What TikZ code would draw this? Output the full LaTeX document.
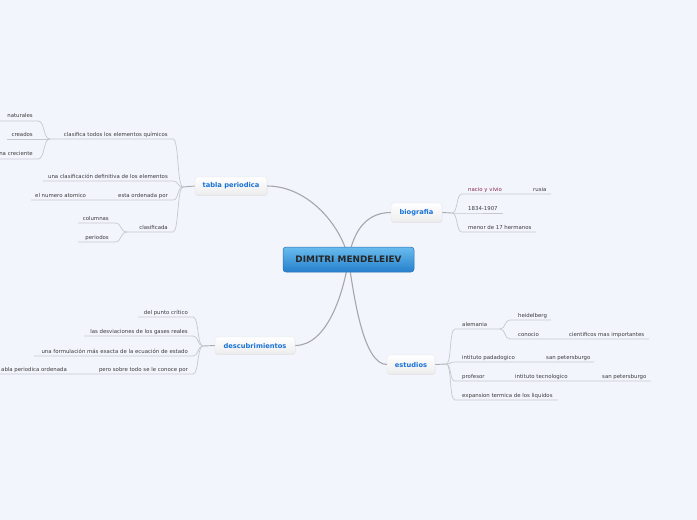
\documentclass[tikz,border=0pt]{standalone}
\usepackage{fontspec}
\setmainfont{DejaVu Sans}
\usetikzlibrary{shadows}
\definecolor{bg}{RGB}{243,245,253}
\definecolor{leafline}{RGB}{198,200,208}
\definecolor{stubline}{RGB}{170,172,178}
\definecolor{mainline}{RGB}{165,167,172}
\definecolor{leaftext}{RGB}{60,60,60}
\definecolor{topictext}{RGB}{25,115,215}
\definecolor{ctrtop}{RGB}{105,188,238}
\definecolor{ctrbot}{RGB}{38,128,204}
\definecolor{ctrborder}{RGB}{45,112,178}
\definecolor{maroontext}{RGB}{135,45,72}
\pgfdeclarelayer{bgfill}
\pgfdeclarelayer{lines}
\pgfsetlayers{bgfill,lines,main}
\begin{document}
\begin{tikzpicture}[x=1pt,y=-1pt,
  leaf/.style={inner sep=0pt, font=\fontsize{5.4}{6}\selectfont, text=leaftext},
  lw/.style={leaf, anchor=base west},
  le/.style={leaf, anchor=base east},
  br/.style={draw=leafline, line width=0.7pt},
  stub/.style={draw=stubline, line width=0.9pt},
  mainbr/.style={draw=mainline, line width=1.1pt},
  topic/.style={rounded corners=2.5pt, top color=white, bottom color=gray!14,
    draw=gray!22, line width=0.3pt, text=topictext,
    font=\fontsize{6.7}{8}\selectfont\bfseries, inner sep=0pt,
    drop shadow={opacity=0.12, shadow xshift=0.4pt, shadow yshift=-0.8pt}},
  center/.style={rounded corners=3pt, top color=ctrtop, bottom color=ctrbot,
    draw=ctrborder, line width=0.5pt, text=black!85,
    font=\fontsize{8.9}{10}\selectfont\bfseries, inner sep=0pt,
    minimum width=131pt, minimum height=25pt}
]
\useasboundingbox (0,0) rectangle (697,520);
\begin{pgfonlayer}{bgfill}
\fill[bg] (0,0) rectangle (697,520);
\end{pgfonlayer}

% ---------- main nodes ----------
\node[center] (ctr) at (348.5,259.5) {DIMITRI MENDELEIEV};
\node[topic, minimum width=72pt, minimum height=18pt] (tabla) at (231,186) {tabla periodica};
\node[topic, minimum width=51pt, minimum height=19pt] (bio) at (416.5,212.5) {biografia};
\node[topic, minimum width=48pt, minimum height=19pt] (est) at (411,364.5) {estudios};
\node[topic, minimum width=80pt, minimum height=17pt] (desc) at (255,345.5) {descubrimientos};

% ---------- coordinates ----------
% tabla periodica
\coordinate (J1) at (183,187);
\coordinate (c1a) at (173,139); \coordinate (J2) at (50,139);
\coordinate (c2a) at (173,181); \coordinate (c2b) at (43,181);
\coordinate (c3a) at (173,200); \coordinate (c3b) at (31,200);
\coordinate (c4a) at (173,232); \coordinate (J3) at (127,232);
\coordinate (n1a) at (38,121); \coordinate (n1b) at (0,121);
\coordinate (n2b) at (7,139);
\coordinate (n3a) at (38,159); \coordinate (n3b) at (0,159);
\coordinate (p1a) at (115,223); \coordinate (p1b) at (78,223);
\coordinate (p2a) at (115,242); \coordinate (p2b) at (78,242);
% descubrimientos
\coordinate (J5) at (203,346);
\coordinate (d1a) at (193,317); \coordinate (d1b) at (138,317);
\coordinate (d2a) at (193,336); \coordinate (d2b) at (84,336);
\coordinate (d3a) at (193,356); \coordinate (d3b) at (34,356);
\coordinate (d4a) at (193,374); \coordinate (d4b) at (0,374);
% biografia
\coordinate (J6) at (452,213);
\coordinate (b1a) at (462,194); \coordinate (b1b) at (551,194);
\coordinate (b2a) at (462,213); \coordinate (b2b) at (503,213);
\coordinate (b3a) at (462,232); \coordinate (b3b) at (536,232);
% estudios
\coordinate (J7) at (446,364);
\coordinate (e1a) at (455,329); \coordinate (J4) at (500,329);
\coordinate (h1a) at (510,320); \coordinate (h1b) at (551,320);
\coordinate (h2a) at (510,339); \coordinate (h2b) at (649,339);
\coordinate (e2a) at (455,362); \coordinate (e2b) at (594,362);
\coordinate (e3a) at (455,381); \coordinate (e3b) at (651,381);
\coordinate (e4a) at (455,400); \coordinate (e4b) at (558,400);

% ---------- lines ----------
\begin{pgfonlayer}{lines}
\draw[mainbr] (tabla.east) .. controls +(42,0) and +(-6,-32) .. (ctr.center);
\draw[mainbr] (bio.west) .. controls +(-22,0) and +(5,-32) .. (ctr.center);
\draw[mainbr] (est.west) .. controls +(-24,0) and +(5,34) .. (ctr.center);
\draw[mainbr] (desc.east) .. controls +(32,0) and +(-5,34) .. (ctr.center);

\draw[stub] (tabla.west) -- (J1);
\draw[br] (J1) .. controls +(-6,0) and +(6,0) .. (c1a) -- (J2);
\draw[br] (J1) .. controls +(-6,0) and +(6,0) .. (c2a) -- (c2b);
\draw[br] (J1) .. controls +(-6,0) and +(6,0) .. (c3a) -- (c3b);
\draw[br] (J1) .. controls +(-6,0) and +(6,0) .. (c4a) -- (J3);
\draw[br] (J2) .. controls +(-7,0) and +(7,0) .. (n1a) -- (n1b);
\draw[br] (J2) -- (n2b);
\draw[br] (J2) .. controls +(-7,0) and +(7,0) .. (n3a) -- (n3b);
\draw[br] (J3) .. controls +(-7,0) and +(7,0) .. (p1a) -- (p1b);
\draw[br] (J3) .. controls +(-7,0) and +(7,0) .. (p2a) -- (p2b);

\draw[stub] (desc.west) -- (J5);
\draw[br] (J5) .. controls +(-6,0) and +(6,0) .. (d1a) -- (d1b);
\draw[br] (J5) .. controls +(-6,0) and +(6,0) .. (d2a) -- (d2b);
\draw[br] (J5) .. controls +(-6,0) and +(6,0) .. (d3a) -- (d3b);
\draw[br] (J5) .. controls +(-6,0) and +(6,0) .. (d4a) -- (d4b);

\draw[stub] (bio.east) -- (J6);
\draw[br] (J6) .. controls +(6,0) and +(-6,0) .. (b1a) -- (b1b);
\draw[br] (J6) -- (b2a) -- (b2b);
\draw[br] (J6) .. controls +(6,0) and +(-6,0) .. (b3a) -- (b3b);

\draw[stub] (est.east) -- (J7);
\draw[br] (J7) .. controls +(6,0) and +(-6,0) .. (e1a) -- (J4);
\draw[br] (J7) .. controls +(6,0) and +(-6,0) .. (e2a) -- (e2b);
\draw[br] (J7) .. controls +(6,0) and +(-6,0) .. (e3a) -- (e3b);
\draw[br] (J7) .. controls +(6,0) and +(-6,0) .. (e4a) -- (e4b);
\draw[br] (J4) .. controls +(6,0) and +(-6,0) .. (h1a) -- (h1b);
\draw[br] (J4) .. controls +(6,0) and +(-6,0) .. (h2a) -- (h2b);
\end{pgfonlayer}

% ---------- leaf texts ----------
\node[le] (t1) at (168,136) {clasifica todos los elementos químicos};
\node[le] (t2) at (168,178) {una clasificación definitiva de los elementos};
\node[le] (t3) at (168,197) {esta ordenada por};
\node[lw] (t3b) at (35,197) {el numero atomico};
\node[le] (t4) at (168,229) {clasificada};
\node[le] (t1a) at (33,117) {naturales};
\node[le] (t1b) at (33,136) {creados};
\node[le] (t1c) at (33,155) {na creciente};
\node[le] (t4a) at (109,220) {columnas};
\node[le] (t4b) at (109,239) {periodos};

\node[le] (u1) at (188,314) {del punto crítico};
\node[le] (u2) at (188,333) {las desviaciones de los gases reales};
\node[le] (u3) at (188,353) {una formulación más exacta de la ecuación de estado};
\node[le] (u4) at (188,371) {pero sobre todo se le conoce por};
\node[le] (u4b) at (67,371) {abla periodica ordenada};

\node[lw, text=maroontext] (v1) at (468,191) {nacio y vivio};
\node[lw] (v1b) at (533,191) {rusia};
\node[lw] (v2) at (468,210) {1834-1907};
\node[lw] (v3) at (468,229) {menor de 17 hermanos};

\node[lw] (w1) at (462,326) {alemania};
\node[lw] (w1a) at (518,317) {heidelberg};
\node[lw] (w1b) at (518,336) {conocio};
\node[lw] (w1c) at (569,336) {cientificos mas importantes};
\node[lw] (w2) at (462,359) {intituto padadogico};
\node[lw] (w2b) at (546,359) {san petersburgo};
\node[lw] (w3) at (462,378) {profesor};
\node[lw] (w3b) at (515,378) {intituto tecnologico};
\node[lw] (w3c) at (602,378) {san petersburgo};
\node[lw] (w4) at (462,397) {expansion termica de los liquidos};
\end{tikzpicture}
\end{document}
